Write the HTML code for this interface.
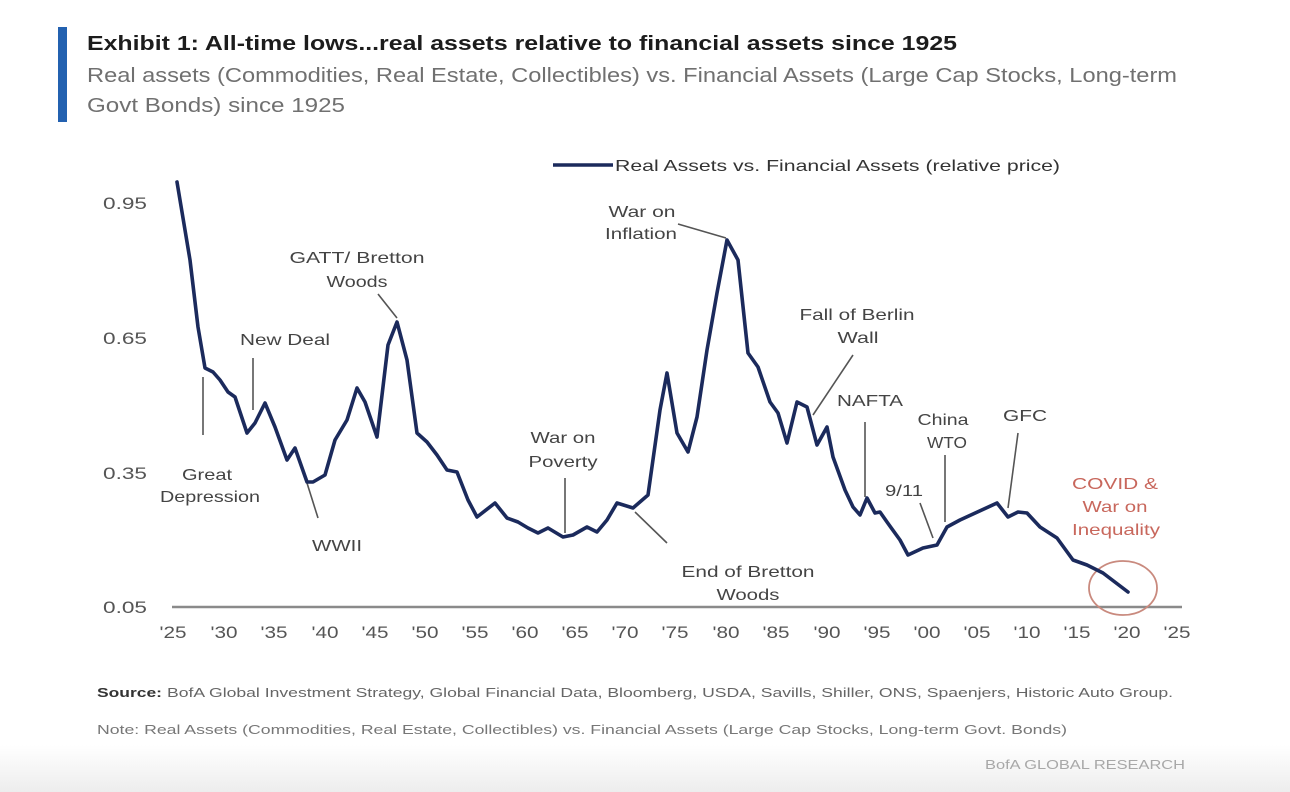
<!DOCTYPE html>
<html>
<head>
<meta charset="utf-8">
<style>
  html,body{margin:0;padding:0;background:#ffffff;}
  svg{display:block;}
  text{font-family:"Liberation Sans", Arial, sans-serif;}
</style>
</head>
<body>
<svg width="1290" height="792" viewBox="0 0 1290 792" xmlns="http://www.w3.org/2000/svg">
  <defs>
    <linearGradient id="bot" x1="0" y1="0" x2="0" y2="1">
      <stop offset="0" stop-color="#ffffff"/>
      <stop offset="1" stop-color="#ededed"/>
    </linearGradient>
  </defs>
  <rect x="0" y="0" width="1290" height="792" fill="#ffffff"/>
  <rect x="0" y="745" width="1290" height="47" fill="url(#bot)"/>

  <!-- Header -->
  <rect x="58" y="27" width="9" height="95" fill="#2361b0"/>
  <text x="87" y="50" font-size="20" font-weight="bold" fill="#1c1c1c" textLength="870" lengthAdjust="spacingAndGlyphs">Exhibit 1: All-time lows...real assets relative to financial assets since 1925</text>
  <text x="87" y="82" font-size="20" fill="#707070" textLength="1090" lengthAdjust="spacingAndGlyphs">Real assets (Commodities, Real Estate, Collectibles) vs. Financial Assets (Large Cap Stocks, Long-term</text>
  <text x="87" y="112" font-size="20" fill="#707070" textLength="258" lengthAdjust="spacingAndGlyphs">Govt Bonds) since 1925</text>

  <!-- Legend -->
  <line x1="553" y1="165" x2="613" y2="165" stroke="#1b2a5c" stroke-width="3.5"/>
  <text x="615" y="171" font-size="16" fill="#333" textLength="445" lengthAdjust="spacingAndGlyphs">Real Assets vs. Financial Assets (relative price)</text>

  <!-- Y tick labels -->
  <g font-size="17" fill="#555" text-anchor="end">
    <text x="147" y="209" textLength="44" lengthAdjust="spacingAndGlyphs">0.95</text>
    <text x="147" y="344" textLength="44" lengthAdjust="spacingAndGlyphs">0.65</text>
    <text x="147" y="479" textLength="44" lengthAdjust="spacingAndGlyphs">0.35</text>
    <text x="147" y="613" textLength="44" lengthAdjust="spacingAndGlyphs">0.05</text>
  </g>

  <!-- Axis -->
  <line x1="172" y1="607" x2="1182" y2="607" stroke="#8a8a8a" stroke-width="2.5"/>

  <!-- X tick labels -->
  <g font-size="17" fill="#555" text-anchor="middle">
    <text x="173" y="638" textLength="27" lengthAdjust="spacingAndGlyphs">'25</text>
    <text x="224" y="638" textLength="27" lengthAdjust="spacingAndGlyphs">'30</text>
    <text x="274" y="638" textLength="27" lengthAdjust="spacingAndGlyphs">'35</text>
    <text x="325" y="638" textLength="27" lengthAdjust="spacingAndGlyphs">'40</text>
    <text x="375" y="638" textLength="27" lengthAdjust="spacingAndGlyphs">'45</text>
    <text x="425" y="638" textLength="27" lengthAdjust="spacingAndGlyphs">'50</text>
    <text x="475" y="638" textLength="27" lengthAdjust="spacingAndGlyphs">'55</text>
    <text x="525" y="638" textLength="27" lengthAdjust="spacingAndGlyphs">'60</text>
    <text x="575" y="638" textLength="27" lengthAdjust="spacingAndGlyphs">'65</text>
    <text x="625" y="638" textLength="27" lengthAdjust="spacingAndGlyphs">'70</text>
    <text x="675" y="638" textLength="27" lengthAdjust="spacingAndGlyphs">'75</text>
    <text x="726" y="638" textLength="27" lengthAdjust="spacingAndGlyphs">'80</text>
    <text x="776" y="638" textLength="27" lengthAdjust="spacingAndGlyphs">'85</text>
    <text x="827" y="638" textLength="27" lengthAdjust="spacingAndGlyphs">'90</text>
    <text x="877" y="638" textLength="27" lengthAdjust="spacingAndGlyphs">'95</text>
    <text x="927" y="638" textLength="27" lengthAdjust="spacingAndGlyphs">'00</text>
    <text x="977" y="638" textLength="27" lengthAdjust="spacingAndGlyphs">'05</text>
    <text x="1027" y="638" textLength="27" lengthAdjust="spacingAndGlyphs">'10</text>
    <text x="1077" y="638" textLength="27" lengthAdjust="spacingAndGlyphs">'15</text>
    <text x="1127" y="638" textLength="27" lengthAdjust="spacingAndGlyphs">'20</text>
    <text x="1177" y="638" textLength="27" lengthAdjust="spacingAndGlyphs">'25</text>
  </g>

  <!-- Leader lines -->
  <g stroke="#555" stroke-width="1.6" fill="none">
    <line x1="378" y1="294" x2="397" y2="318"/>
    <line x1="253" y1="358" x2="253" y2="410"/>
    <line x1="203" y1="377" x2="203" y2="435"/>
    <line x1="307" y1="483" x2="318" y2="518"/>
    <line x1="565" y1="478" x2="565" y2="533"/>
    <line x1="635" y1="512" x2="667" y2="543"/>
    <line x1="678" y1="224" x2="726" y2="238"/>
    <line x1="853" y1="355" x2="813" y2="415"/>
    <line x1="865" y1="422" x2="865" y2="497"/>
    <line x1="920" y1="503" x2="933" y2="538"/>
    <line x1="945" y1="455" x2="945" y2="522"/>
    <line x1="1018" y1="433" x2="1008" y2="508"/>
  </g>

  <!-- Annotation labels -->
  <g font-size="16" fill="#444" text-anchor="middle">
    <text x="357" y="263" textLength="135" lengthAdjust="spacingAndGlyphs">GATT/ Bretton</text>
    <text x="357" y="287" textLength="61" lengthAdjust="spacingAndGlyphs">Woods</text>
    <text x="285" y="345" textLength="90" lengthAdjust="spacingAndGlyphs">New Deal</text>
    <text x="207" y="480" textLength="50" lengthAdjust="spacingAndGlyphs">Great</text>
    <text x="210" y="502" textLength="100" lengthAdjust="spacingAndGlyphs">Depression</text>
    <text x="337" y="551" textLength="50" lengthAdjust="spacingAndGlyphs">WWII</text>
    <text x="563" y="443" textLength="65" lengthAdjust="spacingAndGlyphs">War on</text>
    <text x="563" y="467" textLength="69" lengthAdjust="spacingAndGlyphs">Poverty</text>
    <text x="748" y="577" textLength="133" lengthAdjust="spacingAndGlyphs">End of Bretton</text>
    <text x="748" y="600" textLength="63" lengthAdjust="spacingAndGlyphs">Woods</text>
    <text x="642" y="217" textLength="67" lengthAdjust="spacingAndGlyphs">War on</text>
    <text x="641" y="239" textLength="72" lengthAdjust="spacingAndGlyphs">Inflation</text>
    <text x="857" y="320" textLength="115" lengthAdjust="spacingAndGlyphs">Fall of Berlin</text>
    <text x="858" y="343" textLength="41" lengthAdjust="spacingAndGlyphs">Wall</text>
    <text x="870" y="406" textLength="66" lengthAdjust="spacingAndGlyphs">NAFTA</text>
    <text x="943" y="425" textLength="51" lengthAdjust="spacingAndGlyphs">China</text>
    <text x="947" y="448" textLength="40" lengthAdjust="spacingAndGlyphs">WTO</text>
    <text x="1025" y="421" textLength="44" lengthAdjust="spacingAndGlyphs">GFC</text>
    <text x="904" y="496" textLength="38" lengthAdjust="spacingAndGlyphs">9/11</text>
  </g>
  <g font-size="16" fill="#c8675c" text-anchor="middle">
    <text x="1115" y="489" textLength="86" lengthAdjust="spacingAndGlyphs">COVID &amp;</text>
    <text x="1115" y="512" textLength="65" lengthAdjust="spacingAndGlyphs">War on</text>
    <text x="1116" y="535" textLength="88" lengthAdjust="spacingAndGlyphs">Inequality</text>
  </g>

  <!-- Circle -->
  <ellipse cx="1123" cy="588" rx="34" ry="27" fill="none" stroke="#c98a7e" stroke-width="1.8"/>

  <!-- Data line -->
  <polyline fill="none" stroke="#1b2a5c" stroke-width="3.6" stroke-linejoin="round" stroke-linecap="round"
    points="177,182 190,260 198,327 205,368 213,372 220,380 228,392 235,397 247,433 255,423 265,403 275,427 287,460 295,448 307,482 313,482 325,475 335,440 347,420 357,388 365,402 377,437 388,345 397,322 407,360 417,433 427,442 437,455 447,470 457,472 468,500 477,517 495,503 507,518 518,522 528,528 538,533 548,528 563,537 573,535 587,527 597,532 607,520 617,503 633,508 648,495 660,410 667,373 677,433 688,452 697,417 707,350 717,293 727,240 738,260 748,353 758,367 770,402 778,413 787,443 797,402 807,407 817,445 827,427 833,457 845,490 853,507 860,515 867,498 875,513 880,512 887,522 900,540 908,555 923,548 937,545 947,527 960,520 997,503 1008,517 1018,512 1027,513 1040,527 1057,538 1073,560 1087,565 1103,573 1128,592"/>

  <!-- Footer -->
  <text x="97" y="697" font-size="13" font-weight="bold" fill="#333" textLength="65" lengthAdjust="spacingAndGlyphs">Source:</text>
  <text x="167" y="697" font-size="13" fill="#666" textLength="1006" lengthAdjust="spacingAndGlyphs">BofA Global Investment Strategy, Global Financial Data, Bloomberg, USDA, Savills, Shiller, ONS, Spaenjers, Historic Auto Group.</text>
  <text x="97" y="734" font-size="13" fill="#777" textLength="970" lengthAdjust="spacingAndGlyphs">Note: Real Assets (Commodities, Real Estate, Collectibles) vs. Financial Assets (Large Cap Stocks, Long-term Govt. Bonds)</text>
  <text x="985" y="769" font-size="13" fill="#a8a8a8" textLength="200" lengthAdjust="spacingAndGlyphs">BofA GLOBAL RESEARCH</text>
</svg>
</body>
</html>
